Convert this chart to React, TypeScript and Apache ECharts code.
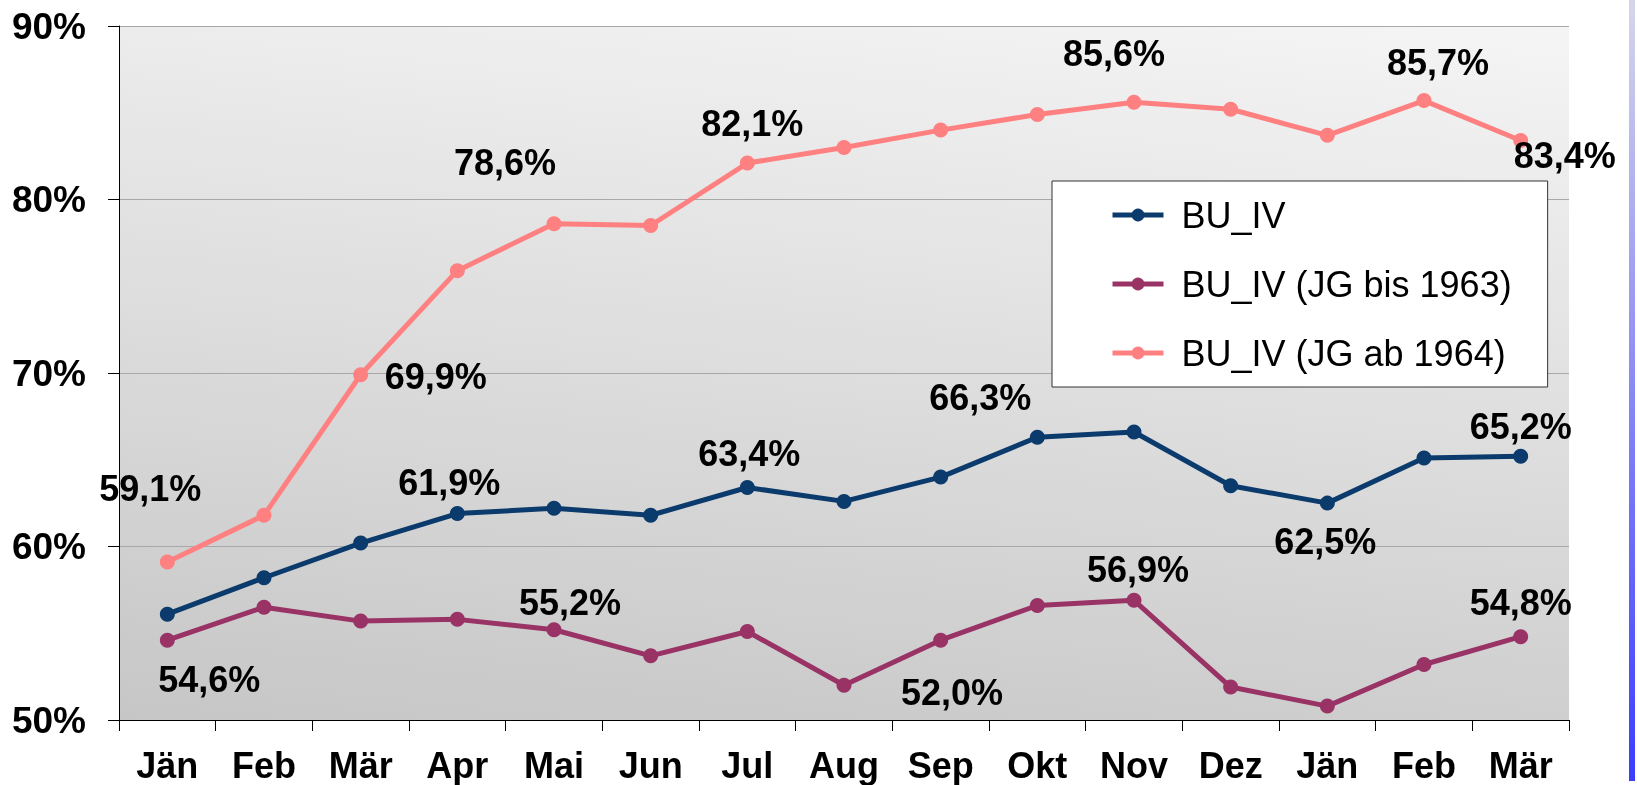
import React, { useEffect, useRef } from "react";
import * as echarts from "echarts";

const categories = ["Jän", "Feb", "Mär", "Apr", "Mai", "Jun", "Jul", "Aug", "Sep", "Okt", "Nov", "Dez", "Jän", "Feb", "Mär"];
const seriesNames = ["BU_IV", "BU_IV (JG bis 1963)", "BU_IV (JG ab 1964)"];
const buIV = [56.1, 58.2, 60.2, 61.9, 62.2, 61.8, 63.4, 62.6, 64.0, 66.3, 66.6, 63.5, 62.5, 65.1, 65.2];
const buIVbis1963 = [54.6, 56.5, 55.7, 55.8, 55.2, 53.7, 55.1, 52.0, 54.6, 56.6, 56.9, 51.9, 50.8, 53.2, 54.8];
const buIVab1964 = [59.1, 61.8, 69.9, 75.9, 78.6, 78.5, 82.1, 83.0, 84.0, 84.9, 85.6, 85.2, 83.7, 85.7, 83.4];
const yTicks = { min: 50, max: 90, interval: 10 };

// which points carry a data label, and where the label sits (pixel offset from the point)
const labelOffsets: Record<number, [number, number]>[] = [
  { 3: [-8, -31], 6: [2, -34], 9: [-57, -40], 12: [-2, 38], 14: [0, -30] },
  { 0: [42, 39], 4: [16, -27], 7: [108, 7], 10: [4, -31], 14: [0, -34] },
  { 0: [-17, -74], 2: [75, 2], 4: [-49, -61], 6: [5, -40], 10: [-20, -49], 13: [14, -38], 14: [44, 15] },
];

const colors = ["#0b3a6c", "#993366", "#ff8080"];
const FONT = "'Liberation Sans', Arial, sans-serif";

const fmt = (v: number) => v.toFixed(1).replace(".", ",") + "%";

export default function App() {
  const ref = useRef<HTMLDivElement>(null);
  useEffect(() => {
    if (!ref.current) return;
    const chart = echarts.init(ref.current, null, { renderer: "svg" });
    const allData = [buIV, buIVbis1963, buIVab1964];
    const series = allData.map((vals, si) => ({
      name: seriesNames[si],
      type: "line",
      z: 3 + si,
      data: vals.map((v, i) => {
        const off = labelOffsets[si][i];
        return off
          ? {
              value: v,
              label: {
                show: true,
                position: "inside",
                offset: off,
                formatter: () => fmt(v),
                color: "#000",
                fontSize: 36,
                fontWeight: "bold",
                fontFamily: FONT,
              },
            }
          : { value: v };
      }),
      symbol: "circle",
      symbolSize: 15,
      lineStyle: { color: colors[si], width: 5 },
      itemStyle: { color: colors[si] },
      label: { show: false },
      emphasis: { disabled: true },
    }));

    chart.setOption({
      animation: false,
      color: colors,
      grid: {
        left: 119,
        top: 26,
        right: 68,
        bottom: 65,
        show: true,
        borderWidth: 0,
        backgroundColor: new echarts.graphic.LinearGradient(0.314, 1.314, 0.686, -0.314, [
          { offset: 0, color: "#bdbdbd" },
          { offset: 1, color: "#fefefe" },
        ]),
      },
      legend: {
        orient: "vertical",
        left: 1052,
        top: 181,
        itemWidth: 51,
        itemHeight: 16,
        itemGap: 33,
        padding: [16, 36, 16, 58],
        backgroundColor: "#ffffff",
        borderColor: "#333333",
        borderWidth: 1,
        lineStyle: { width: 5 },
        textStyle: { fontSize: 36, fontFamily: FONT, color: "#000", padding: [0, 0, 0, 13] },
        data: seriesNames,
      },
      xAxis: {
        type: "category",
        data: categories,
        boundaryGap: true,
        axisLine: { lineStyle: { color: "#000", width: 1 } },
        axisTick: { show: true, length: 11, lineStyle: { color: "#000" } },
        axisLabel: { color: "#000", fontSize: 36, fontWeight: "bold", fontFamily: FONT, margin: 27 },
        splitLine: { show: false },
      },
      yAxis: {
        type: "value",
        min: yTicks.min,
        max: yTicks.max,
        interval: yTicks.interval,
        axisLine: { show: true, lineStyle: { color: "#000", width: 1 } },
        axisTick: { show: true, length: 11, lineStyle: { color: "#000" } },
        axisLabel: {
          color: "#000",
          fontSize: 37,
          fontWeight: "bold",
          fontFamily: FONT,
          margin: 33,
          formatter: "{value}%",
        },
        splitLine: { show: true, lineStyle: { color: "#a8a8a8", width: 1 } },
      },
      graphic: [
        {
          type: "rect",
          shape: { x: 1629, y: 0, width: 6, height: 781 },
          style: {
            fill: new echarts.graphic.LinearGradient(0, 0, 0, 1, [
              { offset: 0, color: "#d6d6ea" },
              { offset: 1, color: "#3c3cff" },
            ]),
          },
        },
      ],
      series,
    });
    return () => chart.dispose();
  }, []);
  return <div ref={ref} style={{ position: "fixed", left: 0, top: 0, width: 1637, height: 785 }} />;
}
